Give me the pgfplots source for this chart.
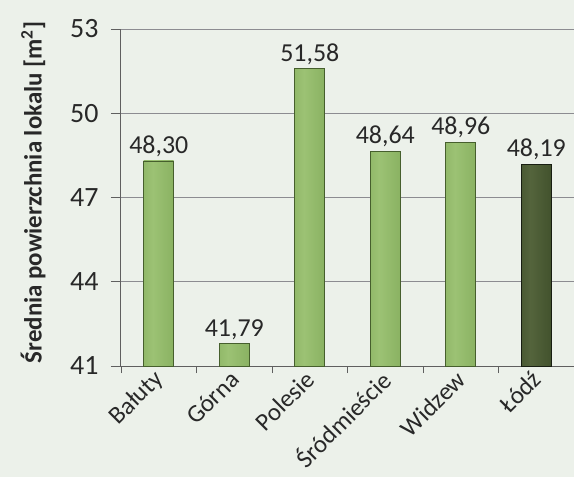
\documentclass[border=0pt]{standalone}
\usepackage{fontspec}
\setmainfont{Carlito}
\usepackage{pgfplots}
\pgfplotsset{compat=1.18}
\definecolor{bg}{RGB}{236,241,234}
\definecolor{gridc}{RGB}{140,140,145}
\definecolor{axc}{RGB}{95,95,95}
\definecolor{lgL}{RGB}{82,112,52}
\definecolor{lgM}{RGB}{138,178,98}
\definecolor{lgH}{RGB}{156,194,116}
\definecolor{lgR}{RGB}{58,82,36}
\definecolor{lgBorder}{RGB}{70,95,45}
\definecolor{dgL}{RGB}{36,46,26}
\definecolor{dgM}{RGB}{66,82,45}
\definecolor{dgH}{RGB}{84,100,60}
\definecolor{dgR}{RGB}{24,30,18}
\definecolor{dgBorder}{RGB}{24,30,18}
\definecolor{txt}{RGB}{40,40,40}
\pgfdeclarehorizontalshading{lightbar}{100bp}{color(0bp)=(lgL); color(14bp)=(lgM); color(40bp)=(lgH); color(75bp)=(lgM); color(100bp)=(lgR)}
\pgfdeclarehorizontalshading{darkbar}{100bp}{color(0bp)=(dgL); color(14bp)=(dgM); color(40bp)=(dgH); color(75bp)=(dgM); color(100bp)=(dgR)}
\pgfplotstableread{
x y
0 48.30
}\dBaluty
\pgfplotstableread{
x y
1 41.79
}\dGorna
\pgfplotstableread{
x y
2 51.58
}\dPolesie
\pgfplotstableread{
x y
3 48.64
}\dSrod
\pgfplotstableread{
x y
4 48.96
}\dWidzew
\pgfplotstableread{
x y
5 48.19
}\dLodz
\begin{document}
\begin{tikzpicture}
\fill[bg] (-121bp,-111bp) rectangle (453bp,366bp);
\useasboundingbox (-121bp,-111bp) rectangle (453bp,366bp);
\begin{axis}[
  at={(0,0)}, anchor=south west,
  scale only axis, width=453bp, height=337bp,
  ymin=41, ymax=53, ytick={41,44,47,50,53},
  xmin=-0.5, xmax=5.5,
  xtick={0,...,5},
  xticklabels={Bałuty,Górna,Polesie,Śródmieście,Widzew,Łódź},
  minor xtick={-0.5,0.5,...,5.5},
  major x tick style={draw=none},
  minor x tick style={draw=axc, line width=0.9bp},
  major y tick style={draw=axc, line width=0.9bp},
  tick align=outside,
  major tick length=10bp, minor tick length=7bp,
  axis x line*=bottom, axis y line*=left,
  axis line style={draw=axc, line width=1bp},
  ymajorgrids, grid style={draw=gridc, line width=0.8bp},
  /pgf/number format/assume math mode=true,
  yticklabel style={font=\fontsize{28}{32}\selectfont, text=txt, xshift=-9bp},
  xticklabel style={font=\fontsize{25}{30}\selectfont, text=txt, rotate=45, anchor=east, inner sep=2bp, xshift=3bp},
  ylabel={Średnia powierzchnia lokalu [m\textsuperscript{2}]},
  every axis y label/.style={at={(axis description cs:-0.194,0.515)}, rotate=90, anchor=center,
     font=\bfseries\fontsize{25}{30}\selectfont, text=txt},
  ybar, bar width=30bp, bar shift=0pt,
  nodes near coords={\pgfmathprintnumber[fixed,fixed zerofill,precision=2,use comma]{\pgfplotspointmeta}},
  every node near coord/.append style={font=\fontsize{26}{30}\selectfont, text=txt, inner sep=4bp},
  clip=false,
  lightstyle/.style={draw=lgBorder, line width=0.8bp, shading=lightbar},
  darkstyle/.style={draw=dgBorder, line width=0.8bp, shading=darkbar},
]
\addplot[lightstyle] table[x=x,y=y] {\dBaluty};
\addplot[lightstyle] table[x=x,y=y] {\dGorna};
\addplot[lightstyle] table[x=x,y=y] {\dPolesie};
\addplot[lightstyle] table[x=x,y=y] {\dSrod};
\addplot[lightstyle] table[x=x,y=y] {\dWidzew};
\addplot[darkstyle] table[x=x,y=y] {\dLodz};
\end{axis}
\end{tikzpicture}
\end{document}
